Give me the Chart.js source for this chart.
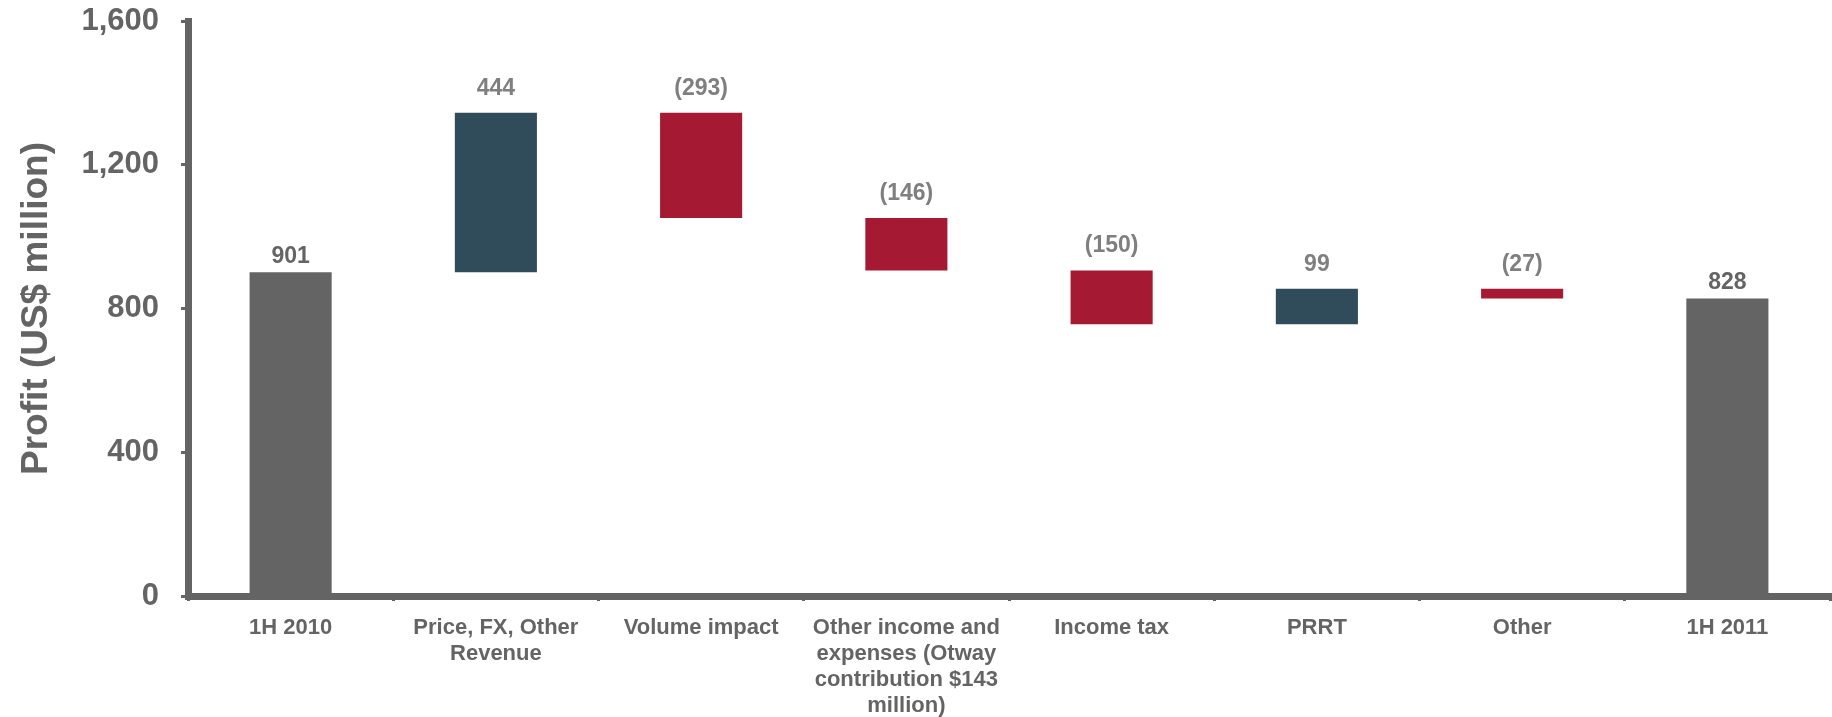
<!DOCTYPE html>
<html>
<head>
<meta charset="utf-8">
<title>Profit bridge 1H 2010 to 1H 2011</title>
<script src="https://cdn.jsdelivr.net/npm/chart.js@4/dist/chart.umd.min.js"></script>
<style>
  html, body { margin: 0; padding: 0; background: #ffffff; }
  #wrap { width: 1832px; height: 717px; }
</style>
</head>
<body>
<div id="wrap"><canvas id="bridge" width="1832" height="717"></canvas></div>
<script>
// Categories of the bridge (multi-line labels as arrays)
const categories = [
  '1H 2010',
  ['Price, FX, Other', 'Revenue'],
  'Volume impact',
  ['Other income and', 'expenses (Otway', 'contribution $143', 'million)'],
  'Income tax',
  'PRRT',
  'Other',
  '1H 2011'
];

// Profit movements in US$ million; first and last entries are totals
const changes = [901, 444, -293, -146, -150, 99, -27, 828];
const kinds   = ['total', 'up', 'down', 'down', 'down', 'up', 'down', 'total'];

// Y axis ticks
const yTicks = [0, 400, 800, 1200, 1600];

const GREY = '#646464';
const COLORS = { total: '#646464', up: '#304B5A', down: '#A51A32' };
const LABEL_COLORS = { total: '#646464', up: '#7F7F7F', down: '#7F7F7F' };

// Floating ranges for each bar: totals start at zero, movements start at the running total
let running = 0;
const ranges = changes.map((v, i) => {
  if (kinds[i] === 'total') { running = v; return [0, v]; }
  const start = running;
  running += v;
  return [Math.min(start, running), Math.max(start, running)];
});

function fmt(v) {
  return v < 0 ? '(' + Math.abs(v) + ')' : String(v);
}

const valueLabels = {
  id: 'valueLabels',
  afterDatasetsDraw(chart) {
    const ctx = chart.ctx;
    const meta = chart.getDatasetMeta(0);
    ctx.save();
    ctx.font = 'bold 23px "Liberation Sans", Arial, sans-serif';
    ctx.textAlign = 'center';
    ctx.textBaseline = 'alphabetic';
    meta.data.forEach((bar, i) => {
      const top = Math.min(bar.y, bar.base);
      const gap = kinds[i] === 'total' ? 9 : 18;
      ctx.fillStyle = LABEL_COLORS[kinds[i]];
      ctx.fillText(fmt(changes[i]), bar.x, top - gap);
    });
    ctx.restore();
  }
};

new Chart(document.getElementById('bridge'), {
  type: 'bar',
  data: {
    labels: categories,
    datasets: [{
      data: ranges,
      backgroundColor: kinds.map(k => COLORS[k]),
      borderWidth: 0,
      categoryPercentage: 1,
      barPercentage: 0.4
    }]
  },
  options: {
    responsive: false,
    animation: false,
    layout: { padding: { left: 0, right: 2, top: 0, bottom: 0 } },
    plugins: { legend: { display: false }, tooltip: { enabled: false } },
    scales: {
      x: {
        offset: true,
        border: { display: true, color: GREY, width: 7 },
        grid: { display: true, drawOnChartArea: false, drawTicks: true, tickLength: 5, lineWidth: 3, color: GREY },
        ticks: {
          color: GREY,
          padding: 14,
          maxRotation: 0,
          autoSkip: false,
          font: { family: '"Liberation Sans", Arial, sans-serif', size: 22, weight: 'bold', lineHeight: 1.18 }
        },
        afterFit(scale) { scale.height = 121; }
      },
      y: {
        min: yTicks[0],
        max: yTicks[yTicks.length - 1],
        afterBuildTicks(scale) { scale.ticks = yTicks.map(v => ({ value: v })); },
        border: { display: true, color: GREY, width: 7 },
        grid: { display: true, drawOnChartArea: false, drawTicks: true, tickLength: 7, lineWidth: 3, color: GREY },
        ticks: {
          color: GREY,
          padding: 22,
          callback: v => v.toLocaleString('en-US'),
          font: { family: '"Liberation Sans", Arial, sans-serif', size: 31, weight: 'bold' }
        },
        title: {
          display: true,
          text: 'Profit (US$ million)',
          color: GREY,
          padding: { top: 15, bottom: 0 },
          font: { family: '"Liberation Sans", Arial, sans-serif', size: 37, weight: 'bold', lineHeight: 1.2 }
        },
        afterFit(scale) {
          scale.width = 188;
          scale.paddingTop = 21;
          scale.paddingBottom = 0;
        }
      }
    }
  },
  plugins: [valueLabels]
});
</script>
</body>
</html>
